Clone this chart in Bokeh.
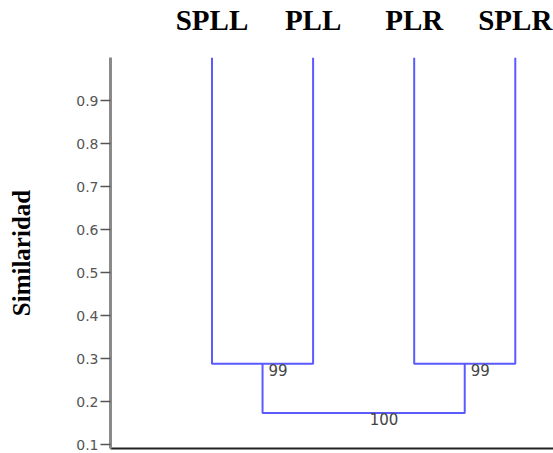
from bokeh.plotting import figure
from bokeh.models import Range1d, LinearAxis, FixedTicker
from bokeh.core.properties import value
from bokeh.embed import file_html
from bokeh.resources import INLINE

# Data
leaves = ["SPLL", "PLL", "PLR", "SPLR"]
leaf_pos = [1, 2, 3, 4]
leaf_top = 1.0
cluster_pairs = [(0, 1), (2, 3)]
cluster_heights = [0.288, 0.288]
root_height = 0.173
bootstrap = [99, 99, 100]
y_ticks = [0.1, 0.2, 0.3, 0.4, 0.5, 0.6, 0.7, 0.8, 0.9]

LINE = "#5a5aff"

p = figure(width=553, height=453, output_backend="svg", toolbar_location=None,
           x_range=Range1d(-0.004, 4.378), y_range=Range1d(0.0907, 1.0),
           x_axis_location=None, y_axis_location=None,
           min_border_left=110, min_border_right=0, min_border_top=57, min_border_bottom=5)
p.outline_line_color = None
p.grid.visible = False
p.background_fill_color = "white"
p.border_fill_color = "white"

# dendrogram lines
xs, ys = [], []
node_x = []
for (a, b), h in zip(cluster_pairs, cluster_heights):
    xa, xb = leaf_pos[a], leaf_pos[b]
    xs.append([xa, xa, xb, xb])
    ys.append([leaf_top, h, h, leaf_top])
    node_x.append((xa + xb) / 2)
xs.append([node_x[0], node_x[0], node_x[1], node_x[1]])
ys.append([cluster_heights[0], root_height, root_height, cluster_heights[1]])
root_x = (node_x[0] + node_x[1]) / 2
p.multi_line(xs, ys, line_color=LINE, line_width=2)

# bootstrap labels
lab_x = node_x + [root_x]
lab_y = cluster_heights + [root_height]
p.text(x=lab_x, y=lab_y, text=[str(b) for b in bootstrap], x_offset=6, y_offset=0,
       text_align="left", text_baseline="top", text_font=value("DejaVu Sans"),
       text_font_size="15px", text_color="#444444")

# left axis
yax = LinearAxis(ticker=FixedTicker(ticks=y_ticks), axis_label="Similaridad")
yax.axis_line_color = "#8a8a8a"
yax.axis_line_width = 3
yax.major_tick_line_color = "#555555"
yax.major_tick_line_width = 1.5
yax.major_tick_out = 10
yax.major_tick_in = 0
yax.minor_tick_line_color = None
yax.major_label_text_font = "DejaVu Sans"
yax.major_label_text_font_size = "14px"
yax.major_label_text_color = "#555555"
yax.major_label_standoff = 2
yax.axis_label_text_font = "Liberation Serif"
yax.axis_label_text_font_style = "bold"
yax.axis_label_text_font_size = "25px"
yax.axis_label_text_color = "black"
yax.axis_label_standoff = 38
p.add_layout(yax, "left")

# bottom axis (line only)
xax = LinearAxis(ticker=FixedTicker(ticks=[]))
xax.axis_line_color = "#222222"
xax.axis_line_width = 2
xax.major_tick_line_color = None
xax.minor_tick_line_color = None
xax.major_label_text_font_size = "0px"
p.add_layout(xax, "below")

# top axis with leaf names
tax = LinearAxis(ticker=FixedTicker(ticks=leaf_pos),
                 major_label_overrides={pos: name for pos, name in zip(leaf_pos, leaves)})
tax.axis_line_color = None
tax.major_tick_line_color = None
tax.minor_tick_line_color = None
tax.major_label_text_font = "Liberation Serif"
tax.major_label_text_font_style = "bold"
tax.major_label_text_font_size = "29px"
tax.major_label_text_color = "black"
tax.major_label_standoff = 16
p.add_layout(tax, "above")

open("out.html", "w").write(file_html(p, INLINE))
